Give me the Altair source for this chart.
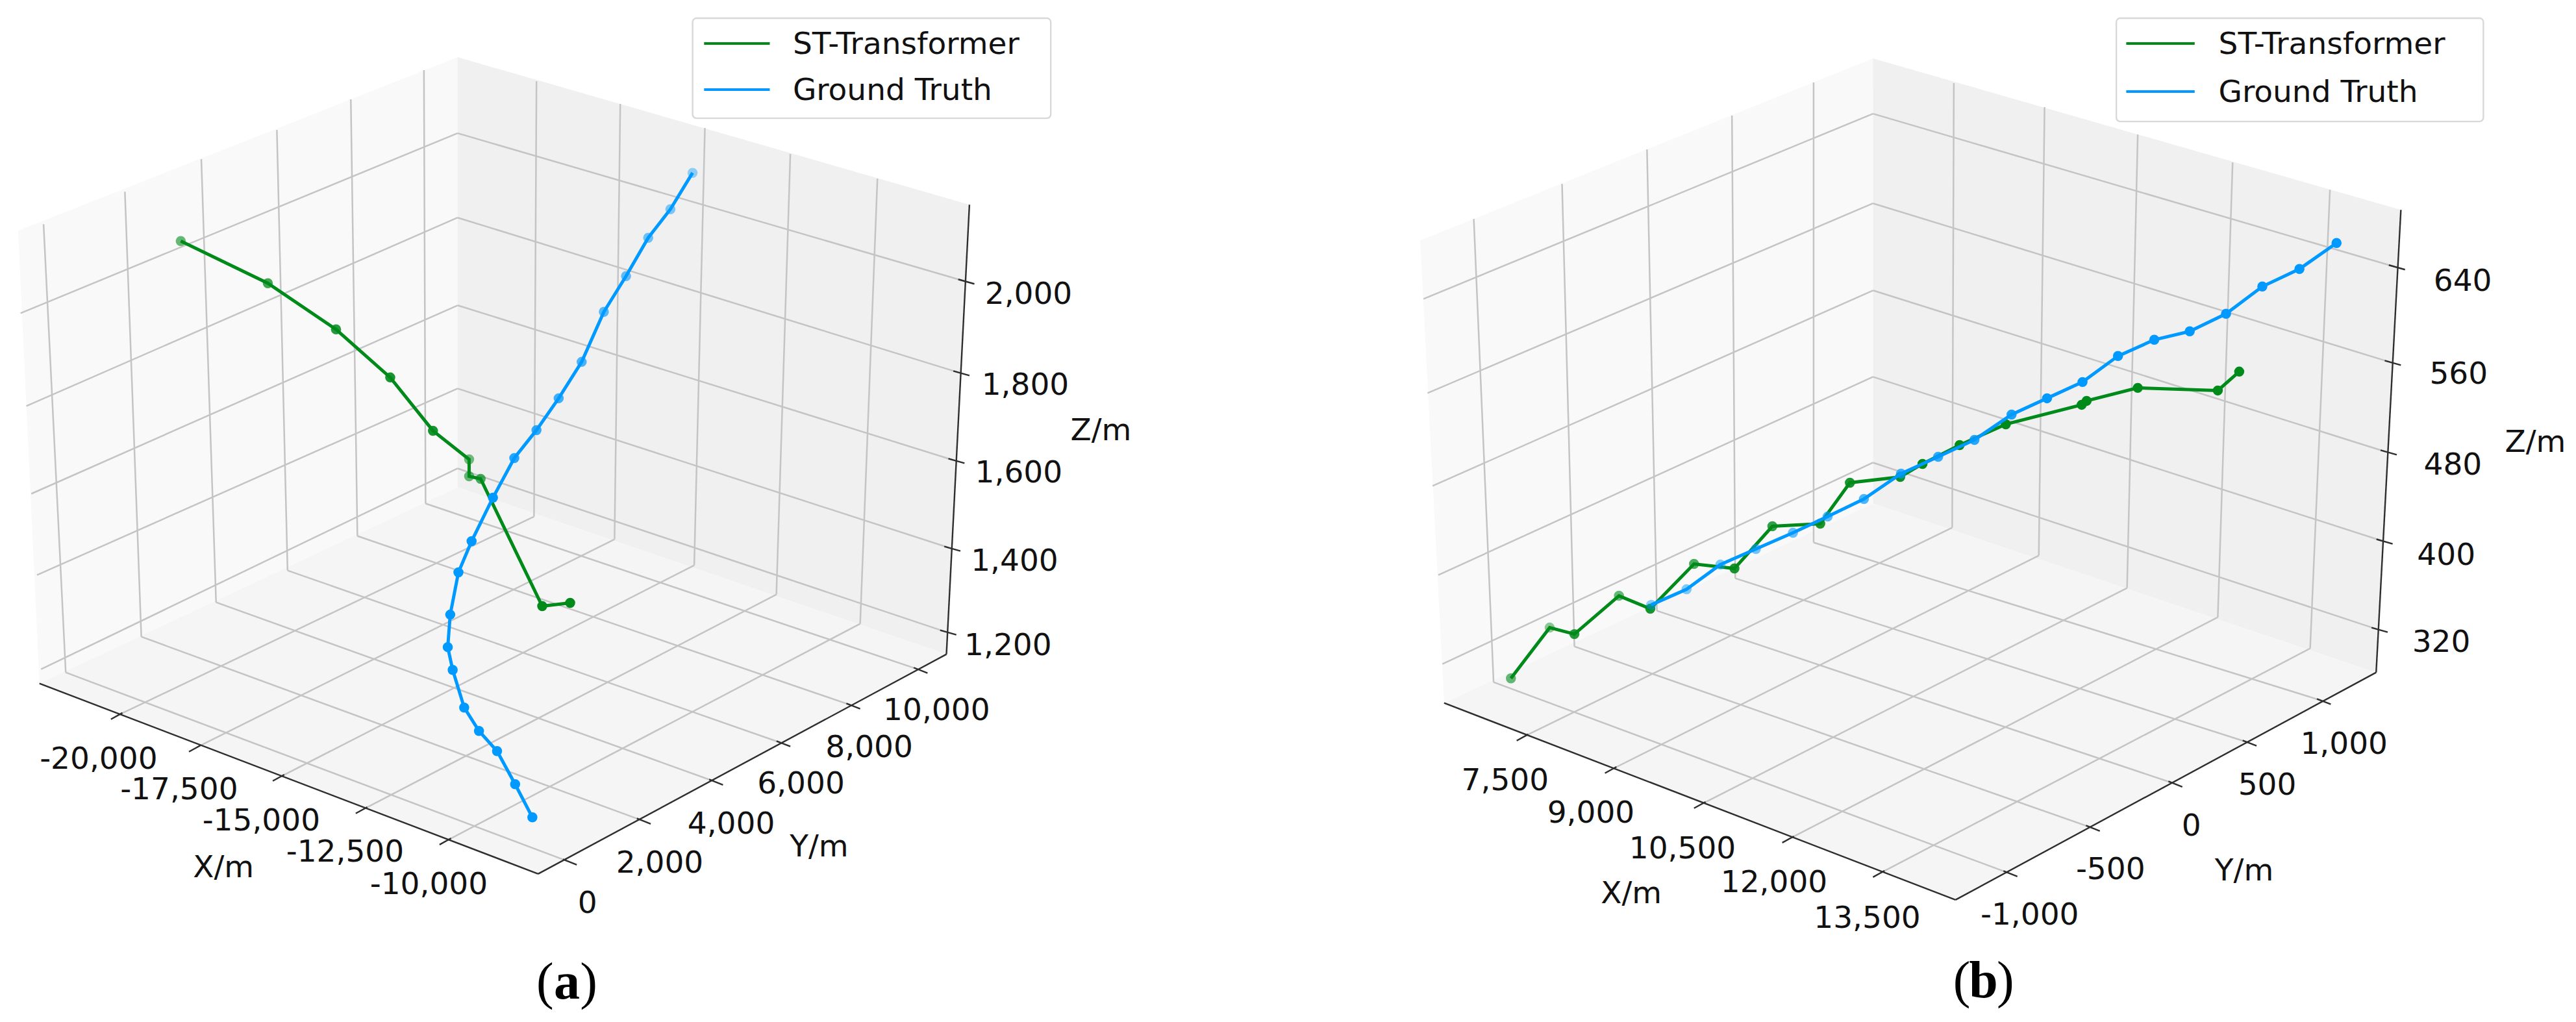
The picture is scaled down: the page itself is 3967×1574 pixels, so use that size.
import altair as alt
import pandas as pd

##--Reference-picture coordinates (screen plane of the 3D plot)
GREEN = "#008a1a"
BLUE = "#0099ff"
FONT = "DejaVu Sans"
FS = 47

#--panel a
a_green_x = [220, 326, 409, 475, 527, 571, 571, 585, 660, 694]
a_green_y = [371, 436, 507, 581, 663, 707, 733, 737, 933, 928]
a_green_shade = [0.6, 0.75, 0.85, 0.9, 0.9, 0.55, 0.6, 0.7, 1, 1]
a_blue_x = [843, 816, 789, 762, 735, 708, 680, 653, 626, 600, 574, 558, 548, 545, 551, 565, 583, 605, 627, 648]
a_blue_y = [266, 322, 366, 425, 480, 557, 613, 662, 705, 766, 833, 881, 946, 996, 1031, 1089, 1125, 1156, 1207, 1258]
a_blue_shade = [0.4, 0.5, 0.55, 0.6, 0.65, 0.7, 0.75, 0.8, 0.85, 1, 1, 1, 1, 1, 1, 1, 1, 1, 1, 1]
a_left_wall = [(22, 355), (557, 88), (557, 750), (48, 1052)]
a_right_wall = [(557, 88), (1180, 315), (1152, 1007), (557, 750)]
a_floor = [(48, 1052), (557, 750), (1152, 1007), (655, 1345)]
a_x_ticks = [(145, 1100), (240, 1150), (342, 1195), (443, 1245), (545, 1293)]
a_x_back = [(650, 795), (748, 830), (845, 870), (945, 915), (1047, 960)]
a_x_top = [(653, 125), (755, 160), (858, 197), (962, 237), (1068, 275)]
a_y_ticks = [(690, 1325), (780, 1262), (868, 1202), (950, 1143), (1035, 1085), (1117, 1030)]
a_y_back = [(80, 1035), (172, 980), (263, 927), (350, 878), (435, 825), (518, 775)]
a_y_top = [(53, 345), (152, 295), (245, 245), (337, 200), (427, 153), (516, 108)]
a_z_ticks = [(1172, 432), (1166, 573), (1160, 708), (1155, 843), (1150, 972)]
a_z_back = [(557, 205), (557, 335), (557, 470), (557, 598), (557, 721)]
a_z_left = [(25, 482), (32, 625), (38, 760), (45, 885), (50, 1030)]
a_x_labels = ["-20,000", "-17,500", "-15,000", "-12,500", "-10,000"]
a_x_label_pos = [(120, 1169), (218, 1216), (318, 1264), (420, 1312), (522, 1362)]
a_y_labels = ["0", "2,000", "4,000", "6,000", "8,000", "10,000"]
a_y_label_pos = [(715, 1391), (803, 1329), (890, 1269), (975, 1207), (1058, 1151), (1140, 1094)]
a_z_labels = ["2,000", "1,800", "1,600", "1,400", "1,200"]
a_z_label_pos = [(1252, 454), (1248, 594), (1240, 729), (1235, 864), (1227, 994)]
a_titles = [("X/m", 272, 1336), ("Y/m", 997, 1304), ("Z/m", 1340, 664)]
a_legend = {"box": (843, 28, 1279, 182), "line": (857, 937), "text": 965, "rows": (67, 138)}
a_panel_tag = ("a", 690, 1513)

#--panel b
b_green_x = [273, 320, 350, 404, 442, 495, 544, 590, 648, 684, 745, 772, 817, 873, 965, 971, 1033, 1130, 1156]
b_green_y = [1044, 966, 976, 917, 937, 868, 875, 810, 806, 743, 734, 714, 685, 653, 623, 617, 597, 601, 572]
b_green_shade = [0.6, 0.45, 0.85, 0.6, 0.9, 0.7, 0.9, 0.8, 0.9, 0.9, 0.95, 1, 1, 1, 1, 1, 1, 1, 1]
b_blue_x = [443, 486, 527, 570, 615, 657, 701, 746, 791, 835, 880, 923, 966, 1009, 1053, 1096, 1140, 1184, 1229, 1274]
b_blue_y = [931, 907, 869, 845, 820, 795, 768, 729, 703, 677, 638, 613, 588, 548, 523, 510, 483, 441, 414, 374]
b_blue_shade = [0.45, 0.5, 0.5, 0.55, 0.6, 0.65, 0.7, 0.75, 0.8, 0.85, 0.9, 1, 1, 1, 1, 1, 1, 1, 1, 1]
b_left_wall = [(163, 370), (712, 90), (712, 775), (192, 1082)]
b_right_wall = [(712, 90), (1352, 323), (1322, 1035), (712, 775)]
b_floor = [(192, 1082), (712, 775), (1322, 1035), (812, 1385)]
b_x_ticks = [(290, 1133), (397, 1183), (505, 1237), (612, 1290), (722, 1343)]
b_x_back = [(808, 812), (913, 855), (1020, 905), (1130, 950), (1242, 998)]
b_x_top = [(810, 128), (920, 165), (1033, 207), (1148, 250), (1266, 292)]
b_y_ticks = [(875, 1343), (975, 1273), (1075, 1205), (1165, 1142), (1255, 1078)]
b_y_back = [(252, 1050), (350, 995), (450, 940), (545, 890), (640, 835)]
b_y_top = [(228, 337), (335, 283), (438, 230), (541, 178), (640, 127)]
b_z_ticks = [(1343, 410), (1338, 557), (1333, 695), (1328, 832), (1322, 968)]
b_z_back = [(712, 175), (712, 313), (712, 447), (712, 580), (712, 712)]
b_z_left = [(167, 460), (172, 605), (178, 748), (185, 885), (190, 1022)]
b_x_labels = ["7,500", "9,000", "10,500", "12,000", "13,500"]
b_x_label_pos = [(266, 1202), (370, 1252), (481, 1307), (592, 1359), (705, 1414)]
b_y_labels = ["-1,000", "-500", "0", "500", "1,000"]
b_y_label_pos = [(902, 1409), (1000, 1339), (1098, 1272), (1190, 1209), (1283, 1146)]
b_z_labels = ["640", "560", "480", "400", "320"]
b_z_label_pos = [(1427, 434), (1422, 577), (1415, 717), (1407, 855), (1401, 989)]
b_titles = [("X/m", 419, 1376), ("Y/m", 1162, 1341), ("Z/m", 1515, 682)]
b_legend = {"box": (1007, 28, 1452, 187), "line": (1019, 1102), "text": 1131, "rows": (67, 141)}
b_panel_tag = ("b", 846, 1511)


##--helpers
def paneRows(poly):
    # convex polygon --> x / y / y2 rows for mark_area
    rows = []
    n = len(poly)
    for x in sorted(set(p[0] for p in poly)):
        ys = []
        for i in range(n):
            (x0, y0), (x1, y1) = poly[i], poly[(i + 1) % n]
            if min(x0, x1) <= x <= max(x0, x1):
                if x0 == x1:
                    ys += [y0, y1]
                else:
                    ys.append(y0 + (y1 - y0) * (x - x0) / (x1 - x0))
        rows.append({"x": x, "y": min(ys), "y2": max(ys)})
    return pd.DataFrame(rows)


def segs(start, end):
    return [{"x": s[0], "y": s[1], "x2": e[0], "y2": e[1]} for s, e in zip(start, end)]


def tickSegs(points, dx, dy):
    return [{"x": p[0] - dx * 0.4, "y": p[1] - dy * 0.4, "x2": p[0] + dx, "y2": p[1] + dy} for p in points]


def panel(d, width, xDomain):
    xs = alt.Scale(domain=xDomain, nice=False, zero=False)
    ys = alt.Scale(domain=[1565, 8], nice=False, zero=False)
    X = lambda f="x": alt.X(f + ":Q", scale=xs, axis=None)
    Y = lambda f="y": alt.Y(f + ":Q", scale=ys, axis=None)

    layers = []
    #--panes
    for poly, col in [(d["left_wall"], "#f9f9f9"), (d["right_wall"], "#f0f0f0"), (d["floor"], "#f5f5f5")]:
        layers.append(alt.Chart(paneRows(poly)).mark_area(color=col).encode(X(), Y(), y2="y2:Q"))

    #--grid
    grid = (segs(d["x_ticks"], d["x_back"]) + segs(d["x_back"], d["x_top"])
            + segs(d["y_ticks"], d["y_back"]) + segs(d["y_back"], d["y_top"])
            + segs(d["z_ticks"], d["z_back"]) + segs(d["z_back"], d["z_left"]))
    layers.append(alt.Chart(pd.DataFrame(grid)).mark_rule(color="#c4c4c4", strokeWidth=2.5).encode(
        X(), Y(), x2="x2:Q", y2="y2:Q"))

    #--axis lines and ticks
    fl, fr, ft = d["floor"][0], d["floor"][2], d["floor"][3]
    rt = d["right_wall"][1]
    axes = segs([fl, ft, fr], [ft, fr, rt])
    axes += tickSegs(d["x_ticks"], -10, 7) + tickSegs(d["y_ticks"], 12, 6) + tickSegs(d["z_ticks"], 14, 5)
    layers.append(alt.Chart(pd.DataFrame(axes)).mark_rule(color="#2e2e2e", strokeWidth=2.4).encode(
        X(), Y(), x2="x2:Q", y2="y2:Q"))

    #--trajectories
    for xv, yv, shade, col in [(d["green_x"], d["green_y"], d["green_shade"], GREEN),
                               (d["blue_x"], d["blue_y"], d["blue_shade"], BLUE)]:
        df = pd.DataFrame({"x": xv, "y": yv, "shade": shade, "o": range(len(xv))})
        layers.append(alt.Chart(df).mark_line(color=col, strokeWidth=5).encode(X(), Y(), order="o:Q"))
        layers.append(alt.Chart(df).mark_circle(color=col, size=240).encode(
            X(), Y(), opacity=alt.Opacity("shade:Q", scale=None)))

    #--tick labels and axis titles
    labels = []
    for names, pos in [(d["x_labels"], d["x_label_pos"]), (d["y_labels"], d["y_label_pos"]), (d["z_labels"], d["z_label_pos"])]:
        labels += [{"t": n, "x": p[0], "y": p[1]} for n, p in zip(names, pos)]
    labels += [{"t": t[0], "x": t[1], "y": t[2]} for t in d["titles"]]
    layers.append(alt.Chart(pd.DataFrame(labels)).mark_text(
        font=FONT, fontSize=FS, color="#111111", align="center", baseline="middle").encode(X(), Y(), text="t:N"))

    #--legend
    lg = d["legend"]
    box = pd.DataFrame([{"x": lg["box"][0], "y": lg["box"][1], "x2": lg["box"][2], "y2": lg["box"][3]}])
    layers.append(alt.Chart(box).mark_rect(fill="white", stroke="#d8d8d8", strokeWidth=2.4, cornerRadius=6).encode(
        X(), Y(), x2="x2:Q", y2="y2:Q"))
    names = ["ST-Transformer", "Ground Truth"]
    for name, row, col in zip(names, lg["rows"], [GREEN, BLUE]):
        one = pd.DataFrame([{"x": lg["line"][0], "x2": lg["line"][1], "y": row, "ty": row + 2, "tx": lg["text"], "t": name}])
        layers.append(alt.Chart(one).mark_rule(color=col, strokeWidth=4).encode(X(), Y(), x2="x2:Q"))
        layers.append(alt.Chart(one).mark_text(font=FONT, fontSize=FS, color="#111111", align="left",
                                               baseline="middle").encode(X("tx"), Y("ty"), text="t:N"))

    #--panel tag, bold letter in serif parentheses
    tag, tx, ty = d["panel_tag"]
    left = pd.DataFrame([{"t": "(", "x": tx - 16, "y": ty}])
    right = pd.DataFrame([{"t": ")", "x": tx + 16, "y": ty}])
    layers.append(alt.Chart(left).mark_text(
        font="Liberation Serif", fontSize=80, color="black", align="right", baseline="middle").encode(X(), Y(), text="t:N"))
    layers.append(alt.Chart(right).mark_text(
        font="Liberation Serif", fontSize=80, color="black", align="left", baseline="middle").encode(X(), Y(), text="t:N"))
    letter = pd.DataFrame([{"t": tag, "x": tx, "y": ty}])
    layers.append(alt.Chart(letter).mark_text(
        font="Liberation Serif", fontSize=80, fontWeight="bold", color="black", align="center", baseline="middle"
    ).encode(X(), Y(), text="t:N"))

    return alt.layer(*layers).properties(width=width, height=1558)


def panelData(prefix):
    keys = ["green_x", "green_y", "green_shade", "blue_x", "blue_y", "blue_shade", "left_wall", "right_wall",
            "floor", "x_ticks", "x_back", "x_top", "y_ticks", "y_back", "y_top", "z_ticks", "z_back", "z_left",
            "x_labels", "x_label_pos", "y_labels", "y_label_pos", "z_labels", "z_label_pos", "titles", "legend",
            "panel_tag"]
    return {k: globals()[prefix + k] for k in keys}


chart = alt.hconcat(panel(panelData("a_"), 1972, [6.3, 1565]),
                    panel(panelData("b_"), 1979, [0, 1558]),
                    spacing=0, padding=0
          ).configure_view(stroke=None)

chart.save("out.html", embed_options={"renderer": "svg", "actions": False})
